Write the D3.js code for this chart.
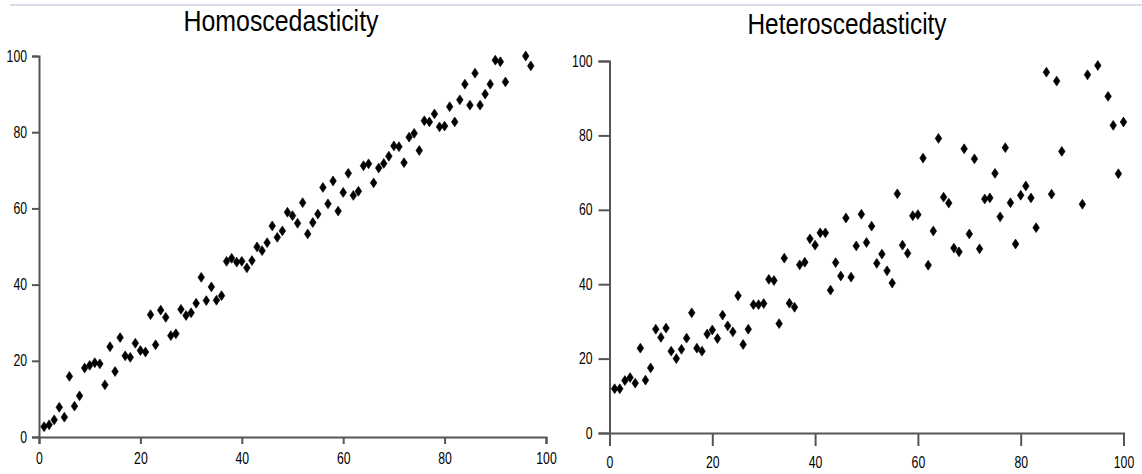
<!DOCTYPE html>
<html>
<head>
<meta charset="utf-8">
<script src="https://cdn.jsdelivr.net/npm/d3@7"></script>
<style>
  body { margin: 0; background: #fff; }
  svg { display: block; }
  .axis path, .axis line { stroke: #555; stroke-width: 2; }
  .axis text { font-family: "Liberation Sans", Arial, sans-serif; font-size: 16px; fill: #000; }
  .title { font-family: "Liberation Sans", Arial, sans-serif; fill: #000; }
</style>
</head>
<body>
<div class="viz"></div>
<script>
//////////////////////////
// Data
//////////////////////////

var TICKS = [0, 20, 40, 60, 80, 100];

// homoscedastic sample
var homoX = [1, 2, 3, 4, 5, 6, 7, 8, 9, 10, 11, 12, 13, 14, 15, 16, 17, 18, 19, 20,
    21, 22, 23, 24, 25, 26, 27, 28, 29, 30, 31, 32, 33, 34, 35, 36, 37, 38, 39, 40,
    41, 42, 43, 44, 45, 46, 47, 48, 49, 50, 51, 52, 53, 54, 55, 56, 57, 58, 59, 60,
    61, 62, 63, 64, 65, 66, 67, 68, 69, 70, 71, 72, 73, 74, 75, 76, 77, 78, 79, 80,
    81, 82, 83, 84, 85, 86, 87, 88, 89, 90, 91, 92, 96, 97];
var homoY = [2.7, 3.2, 4.5, 7.8, 5.2, 15.9, 8.1, 10.8, 18.1, 18.8, 19.5, 19.2, 13.7, 23.7, 17.2, 26.1, 21.3, 20.9, 24.6, 22.7,
    22.3, 32.1, 24.2, 33.3, 31.4, 26.6, 27.1, 33.5, 31.9, 32.6, 35.1, 41.9, 35.8, 39.4, 35.9, 37.1, 46.1, 46.9, 45.9, 46.1,
    44.4, 46.3, 49.9, 48.9, 51.0, 55.4, 52.4, 54.1, 59.0, 58.1, 56.1, 61.5, 53.3, 56.3, 58.5, 65.5, 61.2, 67.2, 59.3, 64.2,
    69.2, 63.4, 64.5, 71.2, 71.7, 66.7, 70.6, 71.8, 73.7, 76.4, 76.2, 72.0, 78.7, 79.7, 75.2, 83.0, 82.7, 84.8, 81.4, 81.6,
    86.7, 82.7, 88.5, 92.6, 87.1, 95.5, 87.1, 90.0, 92.6, 98.9, 98.5, 93.2, 100, 97.4];

// heteroscedastic sample
var heteroX = [1, 2, 3, 4, 5, 6, 7, 8, 9, 10, 11, 12, 13, 14, 15, 16, 17, 18, 19, 20,
    21, 22, 23, 24, 25, 26, 27, 28, 29, 30, 31, 32, 33, 34, 35, 36, 37, 38, 39, 40,
    41, 42, 43, 44, 45, 46, 47, 48, 49, 50, 51, 52, 53, 54, 55, 56, 57, 58, 59, 60,
    61, 62, 63, 64, 65, 66, 67, 68, 69, 70, 71, 72, 73, 74, 75, 76, 77, 78, 79, 80,
    81, 82, 83, 85, 86, 87, 88, 92, 93, 95, 97, 98, 99, 100];
var heteroY = [11.9, 11.9, 14.1, 14.9, 13.4, 22.8, 14.2, 17.5, 27.9, 25.7, 28.2, 22.0, 20.0, 22.5, 25.5, 32.3, 22.8, 22.0, 26.6, 27.7,
    25.4, 31.7, 28.8, 27.2, 36.9, 23.8, 27.9, 34.5, 34.5, 34.8, 41.3, 41.0, 29.4, 47.0, 34.9, 33.8, 45.2, 45.9, 52.2, 50.5,
    53.8, 53.8, 38.4, 45.8, 42.2, 57.8, 41.9, 50.3, 58.8, 51.2, 55.6, 45.6, 48.1, 43.6, 40.3, 64.3, 50.5, 48.3, 58.4, 58.7,
    73.9, 45.1, 54.3, 79.2, 63.4, 61.8, 49.7, 48.7, 76.4, 53.5, 73.7, 49.5, 62.9, 63.2, 69.8, 58.1, 76.7, 61.9, 50.8, 63.9,
    66.4, 63.2, 55.2, 97.0, 64.2, 94.6, 75.7, 61.5, 96.3, 98.8, 90.5, 82.7, 69.7, 83.6];

//////////////////////////
// Chart
//////////////////////////

var svg = d3.select('div.viz')
    .append('svg')
    .attr('width', 1142)
    .attr('height', 474);

// thin rule along the top
svg.append('line')
    .attr('x1', 10).attr('x2', 1142)
    .attr('y1', 5).attr('y2', 5)
    .attr('stroke', '#c9d1e2')
    .attr('stroke-width', 1.5);

// narrow looking labels
function squeeze(sel) {
    sel.attr('textLength', function() { return this.textContent.length * 6.8; })
        .attr('lengthAdjust', 'spacingAndGlyphs');
}

function drawPanel(opts, xs, ys) {
    var g = svg.append('g');

    var x = d3.scaleLinear().domain([0, 100]).range(opts.xRange);
    var y = d3.scaleLinear().domain([0, 100]).range(opts.yRange);

    g.append('g')
        .attr('class', 'axis')
        .attr('transform', 'translate(0,' + opts.yRange[0] + ')')
        .call(d3.axisBottom(x).tickValues(TICKS).tickSize(opts.xTick).tickPadding(opts.xPad))
        .call(function(a) { a.selectAll('text').call(squeeze); });

    g.append('g')
        .attr('class', 'axis')
        .attr('transform', 'translate(' + opts.xRange[0] + ',0)')
        .call(d3.axisLeft(y).tickValues(TICKS).tickSize(opts.yTick).tickPadding(opts.yPad))
        .call(function(a) { a.selectAll('text').call(squeeze); });

    g.append('text')
        .attr('class', 'title')
        .attr('x', opts.titleX)
        .attr('y', opts.titleY)
        .attr('text-anchor', 'middle')
        .attr('font-size', opts.titleSize)
        .attr('textLength', opts.titleW)
        .attr('lengthAdjust', 'spacingAndGlyphs')
        .text(opts.title);

    var sym = d3.symbol().type(d3.symbolDiamond).size(28);
    g.append('g')
        .selectAll('path')
        .data(xs)
        .enter()
        .append('path')
        .attr('d', sym)
        .attr('transform', function(d, i) {
            return 'translate(' + x(d) + ',' + y(ys[i]) + ') scale(1.15,1)';
        })
        .attr('fill', '#000')
        .attr('stroke', '#000')
        .attr('stroke-width', 0.6);
}

drawPanel({
    xRange: [39, 546], yRange: [437, 56],
    xTick: 7, xPad: 9, yTick: 7, yPad: 5,
    title: 'Homoscedasticity', titleX: 281, titleY: 31, titleSize: 29, titleW: 195
}, homoX, homoY);

drawPanel({
    xRange: [609.5, 1123.5], yRange: [433, 61],
    xTick: 13, xPad: 11, yTick: 11, yPad: 6,
    title: 'Heteroscedasticity', titleX: 847, titleY: 34, titleSize: 30, titleW: 199
}, heteroX, heteroY);
</script>
</body>
</html>
